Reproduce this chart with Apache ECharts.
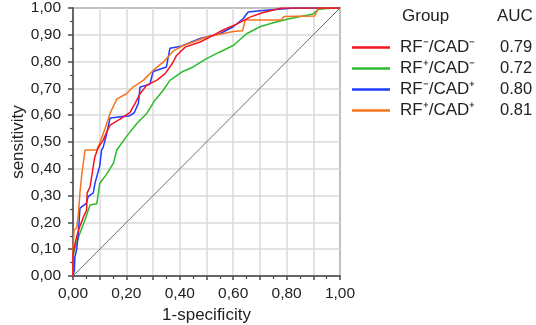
<!DOCTYPE html>
<html><head><meta charset="utf-8">
<script src="https://cdn.jsdelivr.net/npm/echarts@6/dist/echarts.min.js"></script>
<style>html,body{margin:0;padding:0;background:#fff}#c{width:536px;height:325px}</style>
</head><body><div id="c"></div>
<script>
const groups = ['RF⁻/CAD⁻', 'RF⁺/CAD⁻', 'RF⁻/CAD⁺', 'RF⁺/CAD⁺'];
const aucValues = ['0.79', '0.72', '0.80', '0.81'];
const xTicks = [0, 0.2, 0.4, 0.6, 0.8, 1.0];

const rocRfNegCadNeg = [[0,0],[0,0.08],[0.007,0.12],[0.02,0.17],[0.039,0.22],[0.051,0.246],[0.053,0.31],[0.064,0.333],[0.076,0.41],[0.082,0.445],[0.095,0.48],[0.113,0.507],[0.132,0.55],[0.139,0.563],[0.176,0.585],[0.213,0.61],[0.232,0.643],[0.251,0.68],[0.276,0.712],[0.313,0.73],[0.345,0.755],[0.37,0.79],[0.388,0.823],[0.42,0.854],[0.476,0.873],[0.525,0.898],[0.56,0.917],[0.613,0.94],[0.663,0.966],[0.712,0.983],[0.763,0.995],[0.78,1],[1,1]];
const rocRfPosCadNeg = [[0,0],[0,0.07],[0.005,0.097],[0.026,0.16],[0.045,0.21],[0.064,0.265],[0.089,0.27],[0.095,0.308],[0.10,0.345],[0.126,0.38],[0.151,0.42],[0.164,0.47],[0.20,0.52],[0.239,0.569],[0.276,0.606],[0.307,0.656],[0.338,0.693],[0.363,0.73],[0.407,0.761],[0.45,0.78],[0.50,0.811],[0.55,0.836],[0.60,0.86],[0.65,0.904],[0.70,0.93],[0.75,0.945],[0.81,0.96],[0.90,0.978],[0.918,0.994],[0.97,1],[1,1]];
const rocRfNegCadPos = [[0,0],[0.005,0.02],[0.007,0.07],[0.014,0.1],[0.02,0.16],[0.026,0.253],[0.049,0.27],[0.057,0.296],[0.076,0.31],[0.082,0.345],[0.10,0.41],[0.107,0.47],[0.113,0.48],[0.126,0.53],[0.139,0.59],[0.213,0.598],[0.23,0.61],[0.245,0.645],[0.251,0.705],[0.288,0.715],[0.30,0.763],[0.35,0.78],[0.363,0.85],[0.40,0.856],[0.476,0.886],[0.55,0.904],[0.60,0.93],[0.637,0.96],[0.656,0.985],[0.70,0.99],[0.83,1],[1,1]];
const rocRfPosCadPos = [[0,0],[0,0.097],[0.004,0.17],[0.014,0.18],[0.02,0.23],[0.026,0.31],[0.033,0.38],[0.045,0.47],[0.089,0.47],[0.10,0.495],[0.12,0.55],[0.14,0.61],[0.164,0.66],[0.20,0.68],[0.225,0.705],[0.263,0.73],[0.30,0.767],[0.338,0.798],[0.376,0.84],[0.413,0.86],[0.45,0.873],[0.50,0.892],[0.56,0.904],[0.60,0.912],[0.635,0.915],[0.645,0.955],[0.78,0.955],[0.79,0.968],[0.905,0.97],[0.92,1],[1,1]];
const diagonal = [[0,0],[1,1]];

const colors = ['#f5141e', '#2dbb2d', '#1f3cff', '#f5741f'];
const fmt = v => v.toFixed(2).replace('.', ',');

const chart = echarts.init(document.getElementById('c'), null, {renderer: 'canvas'});
const font = "'Liberation Sans', Arial, sans-serif";
const mk = (i, data, z) => ({
  name: groups[i], type: 'line', data, symbol: 'none', showSymbol: false, z,
  lineStyle: {color: colors[i], width: 1.5}, itemStyle: {color: colors[i]}, animation: false
});
chart.setOption({
  animation: false,
  textStyle: {fontFamily: font},
  grid: {left: 73, top: 8, right: 196, bottom: 49, containLabel: false, outerBoundsMode: 'none',
    show: true, borderColor: '#4a4a4a', borderWidth: 1.5, backgroundColor: 'transparent'},
  xAxis: {
    type: 'value', min: 0, max: 1, interval: 0.1,
    name: '1-specificity', nameLocation: 'middle', nameGap: 28,
    nameTextStyle: {fontSize: 17, color: '#222', fontFamily: font},
    axisLine: {show: true, lineStyle: {color: '#4a4a4a', width: 1.5}},
    axisTick: {show: true, length: 4, lineStyle: {color: '#4a4a4a', width: 1.5}},
    minorTick: {show: true, splitNumber: 2, length: 3, lineStyle: {color: '#4a4a4a', width: 1.2}},
    splitLine: {show: true, lineStyle: {color: '#dadada', width: 1.5}},
    axisLabel: {fontSize: 15.5, color: '#222', margin: 10, fontFamily: font,
      formatter: v => xTicks.some(t => Math.abs(t - v) < 1e-6) ? fmt(v) : ''}
  },
  yAxis: {
    type: 'value', min: 0, max: 1, interval: 0.1,
    name: 'sensitivity', nameLocation: 'middle', nameGap: 46,
    nameTextStyle: {fontSize: 17, color: '#222', fontFamily: font},
    axisLine: {show: true, lineStyle: {color: '#4a4a4a', width: 1.5}},
    axisTick: {show: true, length: 5, lineStyle: {color: '#4a4a4a', width: 1.5}},
    minorTick: {show: true, splitNumber: 2, length: 3, lineStyle: {color: '#4a4a4a', width: 1.2}},
    splitLine: {show: true, lineStyle: {color: '#dadada', width: 1.5}},
    axisLabel: {fontSize: 15.5, color: '#222', margin: 12, fontFamily: font, formatter: v => fmt(v)}
  },
  legend: {
    orient: 'vertical', left: 352, top: 39, padding: 0,
    icon: 'rect', itemWidth: 38, itemHeight: 2.5, itemGap: 4,
    data: groups,
    textStyle: {fontSize: 17, color: '#222', fontFamily: font,
      rich: {n: {fontSize: 17, width: 100, padding: [0,0,0,5], fontFamily: font, color: '#222'},
             v: {fontSize: 16.5, fontFamily: font, color: '#222'}}},
    formatter: name => '{n|' + name + '}{v|' + aucValues[groups.indexOf(name)] + '}'
  },
  graphic: [
    {type: 'text', left: 402, top: 8, style: {text: 'Group', font: '17px ' + font, fill: '#222'}},
    {type: 'text', left: 497, top: 8, style: {text: 'AUC', font: '17px ' + font, fill: '#222'}}
  ],
  series: [
    {type: 'line', data: diagonal, symbol: 'none', lineStyle: {color: '#6e6e6e', width: 1}, silent: true, z: 1, animation: false},
    mk(1, rocRfPosCadNeg, 2),
    mk(2, rocRfNegCadPos, 3),
    mk(3, rocRfPosCadPos, 4),
    mk(0, rocRfNegCadNeg, 5)
  ]
});
</script></body></html>
